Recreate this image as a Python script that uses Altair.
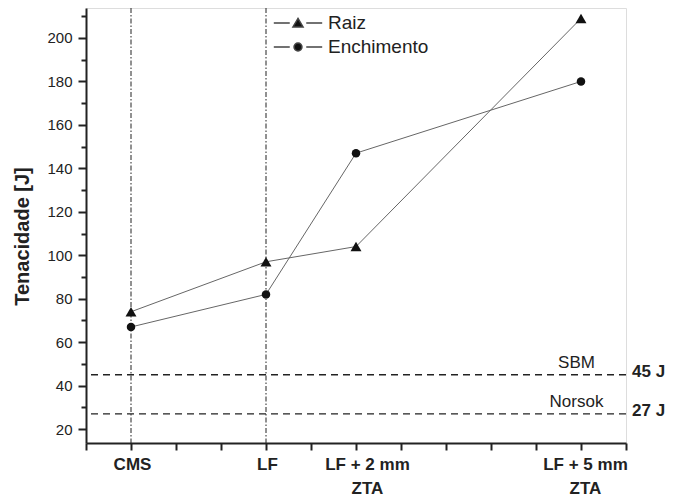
import json
import altair as alt
import pandas as pd

FONT = "Liberation Sans"

# ---- data ----
categorias = ["CMS", "LF", "LF + 2 mm|ZTA", "LF + 5 mm|ZTA"]
posicoes = [1, 4, 6, 11]
raiz = [74, 97, 104, 209]
enchimento = [67, 82, 147, 180]
series = ["Raiz", "Enchimento"]
formas = ["triangle-up", "circle"]
normas = ["SBM", "Norsok"]
normas_valor = [45, 27]
normas_rotulo = ["45 J", "27 J"]
verticais = [1, 4]
marcas_x = [0, 1, 2, 3, 4, 5, 6, 7, 8, 9, 10, 11, 12]
marcas_y = [20, 30, 40, 50, 60, 70, 80, 90, 100, 110, 120, 130, 140, 150, 160, 170, 180, 190, 200, 210]

rows = []
for s, vals in zip(series, [raiz, enchimento]):
    for c, p, v in zip(categorias, posicoes, vals):
        rows.append({"serie": s, "legenda": s, "categoria": c, "pos": p, "valor": v})
df = pd.DataFrame(rows)
df_v = pd.DataFrame({"pos": verticais})
df_h = pd.DataFrame({"valor": normas_valor, "norma": normas, "rotulo": normas_rotulo})

# x label expression built from the category arrays
parts = []
for c, p in zip(categorias, posicoes):
    linhas = c.split("|")
    val = json.dumps(linhas if len(linhas) > 1 else linhas[0])
    parts.append(f"datum.value == {p} ? {val} : ")
label_expr = "".join(parts) + "''"

xscale = alt.Scale(domain=[0, 12], nice=False, zero=False)
yscale = alt.Scale(domain=[13.6, 213.8], nice=False, zero=False)

x_axis = alt.Axis(
    values=marcas_x, labelExpr=label_expr, title=None, grid=False,
    tickSize=7, tickWidth=2, tickColor="#222", domainColor="#222", domainWidth=2,
    labelFont=FONT, labelFontSize=17, labelFontWeight="bold", labelColor="#222",
    labelPadding=6, labelLineHeight=24, labelOverlap=False, labelFlush=False,
    labelOffset={"condition": [{"test": "datum.value == 6", "value": 11},
                               {"test": "datum.value == 11", "value": 4}], "value": 1},
)
y_axis = alt.Axis(
    values=marcas_y, labelExpr="datum.value % 20 == 0 ? datum.label : ''",
    title="Tenacidade [J]", grid=False,
    tickSize={"condition": {"test": "datum.value % 20 == 0", "value": 8}, "value": 5},
    tickWidth=2, tickColor="#222", domainColor="#222", domainWidth=2,
    labelFont=FONT, labelFontSize=15, labelColor="#222", labelPadding=6,
    labelOverlap=False, labelFlush=False,
    titleFont=FONT, titleFontSize=20, titleFontWeight="bold", titleColor="#222",
    titlePadding=14, titleY=228,
)

X = lambda: alt.X("pos:Q", scale=xscale, axis=x_axis)
Y = lambda: alt.Y("valor:Q", scale=yscale, axis=y_axis)

vlines = alt.Chart(df_v).mark_rule(color="#222", strokeWidth=1, strokeDash=[5, 2, 1.5, 2]).encode(x=X())
hlines = alt.Chart(df_h).mark_rule(color="#222", strokeWidth=1.3, strokeDash=[7, 5]).encode(y=Y())

lines = alt.Chart(df).mark_line(color="#666", strokeWidth=1).encode(x=X(), y=Y(), detail="serie:N")
points = alt.Chart(df).mark_point(filled=True, color="#111", opacity=1).encode(
    x=X(), y=Y(),
    shape=alt.Shape("serie:N", scale=alt.Scale(domain=series, range=formas), legend=None),
    size=alt.Size("serie:N", scale=alt.Scale(domain=series, range=[120, 72]), legend=None),
)

tri_path = "M-2.2,0H-0.75M0.75,0H2.2M0,-0.42L0.46,0.36L-0.46,0.36Z"
circ_path = "M-2.2,0H-0.75M0.75,0H2.2M-0.36,0A0.36,0.36,0,1,0,0.36,0A0.36,0.36,0,1,0,-0.36,0Z"
legend_layer = alt.Chart(df).mark_point(filled=True, color="#111", stroke="#444", strokeWidth=1, opacity=0).encode(
    x=X(), y=Y(),
    shape=alt.Shape("legenda:N", scale=alt.Scale(domain=series, range=[tri_path, circ_path]),
                    legend=alt.Legend(title=None, orient="none", legendX=200, legendY=3,
                                      symbolSize=484, symbolOpacity=1, labelOffset=18,
                                      rowPadding=2, padding=0, labelFont=FONT,
                                      labelFontSize=19, labelColor="#222")),
)

norm_text = alt.Chart(df_h).mark_text(font=FONT, fontSize=17, color="#222", align="center",
                                      baseline="alphabetic", dy=-6.5).encode(
    x=alt.datum(10.9), y=Y(), text="norma:N")
right_text = alt.Chart(df_h).mark_text(font=FONT, fontSize=17, fontWeight="bold", color="#222",
                                       align="left", baseline="alphabetic", dx=6, dy=2).encode(
    x=alt.datum(12), y=Y(), text="rotulo:N")

chart = alt.layer(vlines, hlines, lines, points, legend_layer, norm_text, right_text).resolve_scale(
    shape="independent", size="independent"
).properties(
    width=540, height=435, autosize="none",
    padding={"left": 78, "top": 0, "right": 50, "bottom": 53},
).configure_view(stroke="#222", strokeWidth=2).configure(background="white", font=FONT)

chart.save("out.html", embed_options={"renderer": "svg", "actions": False})
